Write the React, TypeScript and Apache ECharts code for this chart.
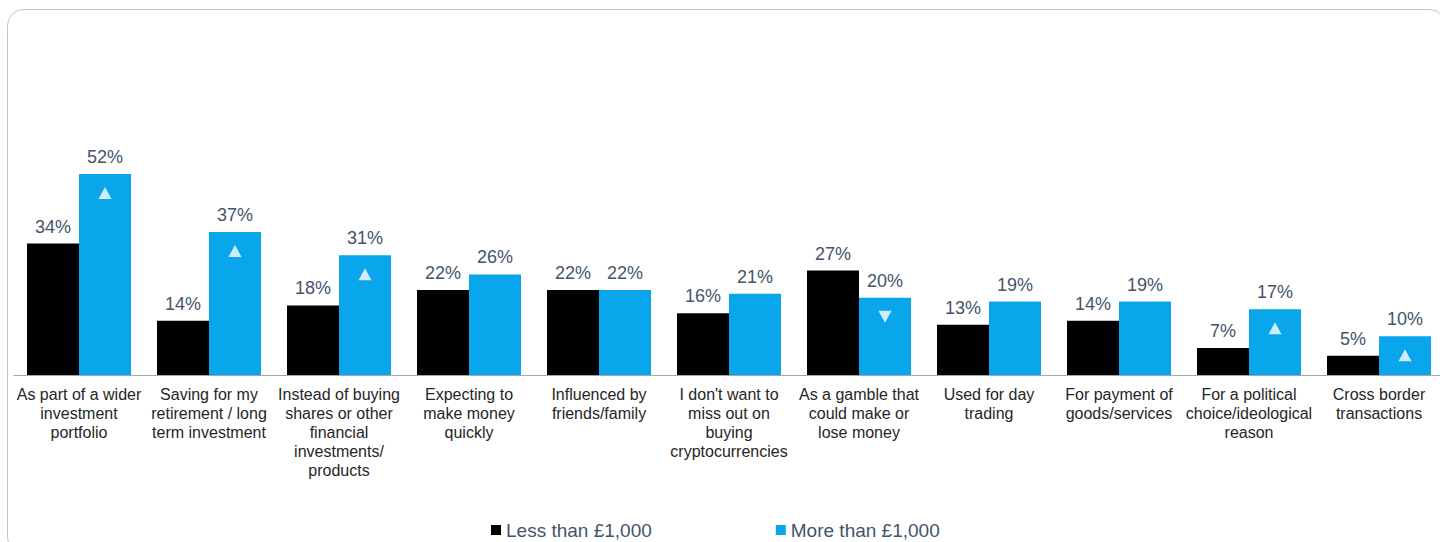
import React, { useEffect, useRef } from "react";
import * as echarts from "echarts";

const categories = [
  "As part of a wider\ninvestment\nportfolio",
  "Saving for my\nretirement / long\nterm investment",
  "Instead of buying\nshares or other\nfinancial\ninvestments/\nproducts",
  "Expecting to\nmake money\nquickly",
  "Influenced by\nfriends/family",
  "I don't want to\nmiss out on\nbuying\ncryptocurrencies",
  "As a gamble that\ncould make or\nlose money",
  "Used for day\ntrading",
  "For payment of\ngoods/services",
  "For a political\nchoice/ideological\nreason",
  "Cross border\ntransactions",
];

const lessThan1000 = [34, 14, 18, 22, 22, 16, 27, 13, 14, 7, 5];
const moreThan1000 = [52, 37, 31, 26, 22, 21, 20, 19, 19, 17, 10];
// significance markers on the "More than" bars: "up", "down" or ""
const significance = ["up", "up", "up", "", "", "", "down", "", "", "up", "up"];

const seriesNames = ["Less than £1,000", "More than £1,000"];

const BLACK = "#000000";
const BLUE = "#09A6EC";
const LABEL_COLOR = "#44546A";
const AXIS_TEXT = "#262626";
const FONT = "Liberation Sans, Arial, sans-serif";

const UP_PATH = "path://M5,0L10,9L0,9Z";
const DOWN_PATH = "path://M0,0L10,0L5,9Z";

export default function App() {
  const ref = useRef<HTMLDivElement>(null);

  useEffect(() => {
    if (!ref.current) return;
    const chart = echarts.init(ref.current, undefined, { renderer: "svg" });

    const markerData = significance.map((s, i) =>
      s === ""
        ? "-"
        : {
            value: moreThan1000[i],
            symbol: s === "up" ? UP_PATH : DOWN_PATH,
          }
    );

    const barLabel = {
      show: true,
      position: "top" as const,
      distance: 8,
      formatter: "{c}%",
      color: LABEL_COLOR,
      fontSize: 18,
      fontFamily: FONT,
    };

    chart.setOption({
      animation: false,
      backgroundColor: "#ffffff",
      textStyle: { fontFamily: FONT },
      graphic: [
        {
          type: "rect",
          shape: { x: 7.5, y: 9.5, width: 1438, height: 544, r: 16 },
          style: { fill: "none", stroke: "#c4c4c4", lineWidth: 1 },
          silent: true,
          z: -10,
        },
      ],
      legend: {
        data: seriesNames,
        left: 486,
        top: 515,
        itemGap: 124,
        itemWidth: 10,
        itemHeight: 10,
        icon: "rect",
        textStyle: {
          color: LABEL_COLOR,
          fontSize: 19,
          lineHeight: 20,
          fontFamily: FONT,
        },
      },
      grid: {
        left: 14,
        width: 1430,
        top: 143,
        bottom: 167,
        containLabel: false,
      },
      xAxis: {
        type: "category",
        data: categories,
        axisTick: { show: false },
        axisLine: { lineStyle: { color: "#a6a6a6", width: 1 } },
        axisLabel: {
          interval: 0,
          color: AXIS_TEXT,
          fontSize: 16,
          lineHeight: 19,
          margin: 10,
          fontFamily: FONT,
          verticalAlign: "top",
        },
      },
      yAxis: {
        type: "value",
        min: 0,
        max: 60,
        show: false,
        splitLine: { show: false },
      },
      series: [
        {
          name: seriesNames[0],
          type: "bar",
          data: lessThan1000,
          barWidth: 52,
          barGap: "0%",
          itemStyle: { color: BLACK },
          label: barLabel,
        },
        {
          name: seriesNames[1],
          type: "bar",
          data: moreThan1000,
          barWidth: 52,
          barGap: "0%",
          itemStyle: { color: BLUE },
          label: barLabel,
        },
        {
          name: "significance",
          type: "scatter",
          data: markerData,
          symbolSize: [13, 12],
          symbolOffset: [26, 19],
          itemStyle: { color: "#ffffff" },
          silent: true,
          z: 5,
        },
      ],
    });

    return () => chart.dispose();
  }, []);

  return (
    <div
      style={{
        position: "fixed",
        left: 0,
        top: 0,
        width: 1440,
        height: 542,
        overflow: "hidden",
      }}
    >
      <div ref={ref} style={{ width: 1460, height: 542 }} />
    </div>
  );
}
